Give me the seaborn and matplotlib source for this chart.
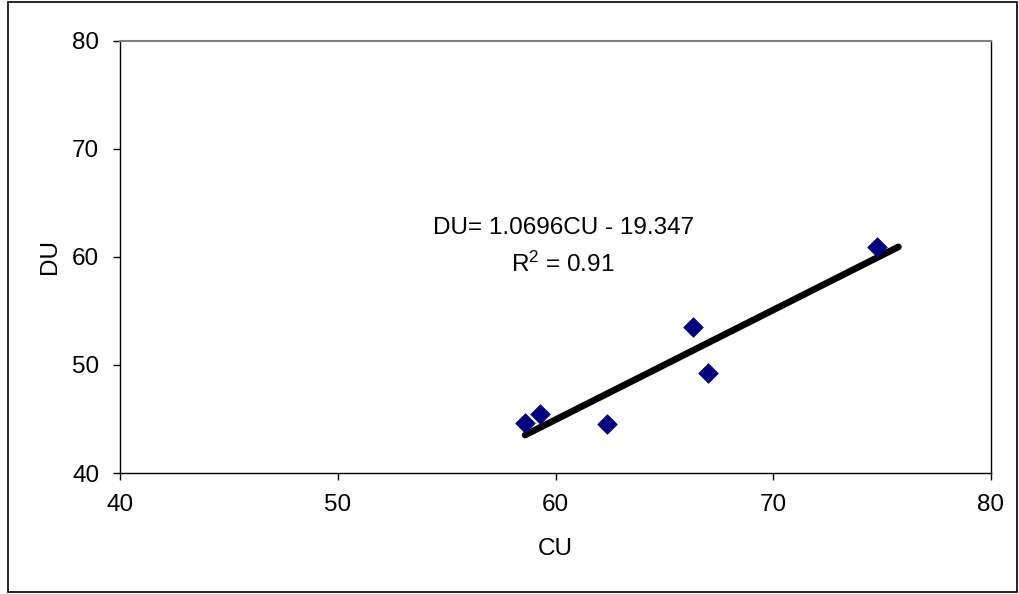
import numpy as np
import pandas as pd
import matplotlib
matplotlib.use("Agg")
import matplotlib.pyplot as plt
import seaborn as sns
from matplotlib.patches import Rectangle

# values
cu = [58.6, 59.3, 62.35, 66.3, 67.0, 74.75]
du = [44.66, 45.46, 44.5, 53.55, 49.29, 60.9]
eq_label = "DU= 1.0696CU - 19.347"
r2_label = "R$^2$ = 0.91"
ticks = [40, 50, 60, 70, 80]

sns.set_style("white")
plt.rcParams["font.family"] = ["Liberation Sans", "DejaVu Sans"]
plt.rcParams["mathtext.fontset"] = "custom"
plt.rcParams["mathtext.rm"] = "Liberation Sans"
plt.rcParams["mathtext.it"] = "Liberation Sans"
plt.rcParams["text.color"] = "black"
plt.rcParams["axes.labelcolor"] = "black"
plt.rcParams["xtick.color"] = "black"
plt.rcParams["ytick.color"] = "black"

fs = 17.5
df = pd.DataFrame({"CU": cu, "DU": du})

fig = plt.figure(figsize=(10.19, 5.94), dpi=100)
ax = fig.add_axes([0.1178, 0.2037, 0.9725 - 0.1178, 0.931 - 0.2037])

# trend line (least squares), extended one unit forward like the excel trendline
slope, icpt = np.polyfit(df.CU, df.DU, 1)
tx = np.array([df.CU.min(), df.CU.max() + 1.0])
trend = pd.DataFrame({"CU": tx, "DU": slope * tx + icpt})
sns.lineplot(data=trend, x="CU", y="DU", ax=ax, color="black", lw=4.8,
             solid_capstyle="round", zorder=2)

sns.scatterplot(data=df, x="CU", y="DU", ax=ax, marker="D", s=100,
                color="#000080", edgecolor="#000080", linewidth=0.5, zorder=3)

ax.text(60.35, 62.7, eq_label, ha="center", va="center", fontsize=fs)
ax.text(60.35, 59.35, r2_label, ha="center", va="center", fontsize=fs)

ax.set_xlim(40, 80)
ax.set_ylim(40, 80)
ax.set_xticks(ticks)
ax.set_yticks(ticks)
ax.tick_params(axis="both", labelsize=fs, direction="out", length=5, width=1,
               color="black", bottom=True, left=True, pad=10)
ax.set_xlabel("CU", fontsize=fs, labelpad=16)
ax.set_ylabel("DU", fontsize=fs, labelpad=8)

for side in ["left", "bottom", "right"]:
    ax.spines[side].set_color("black")
    ax.spines[side].set_linewidth(1.0)
ax.spines["top"].set_color("#808080")
ax.spines["top"].set_linewidth(1.5)

# outer chart border
fig.patches.append(Rectangle((0.008, 0.004), 0.99, 0.992, transform=fig.transFigure,
                             fill=False, edgecolor="black", linewidth=1.2))

fig.savefig("out.png", dpi=100)
